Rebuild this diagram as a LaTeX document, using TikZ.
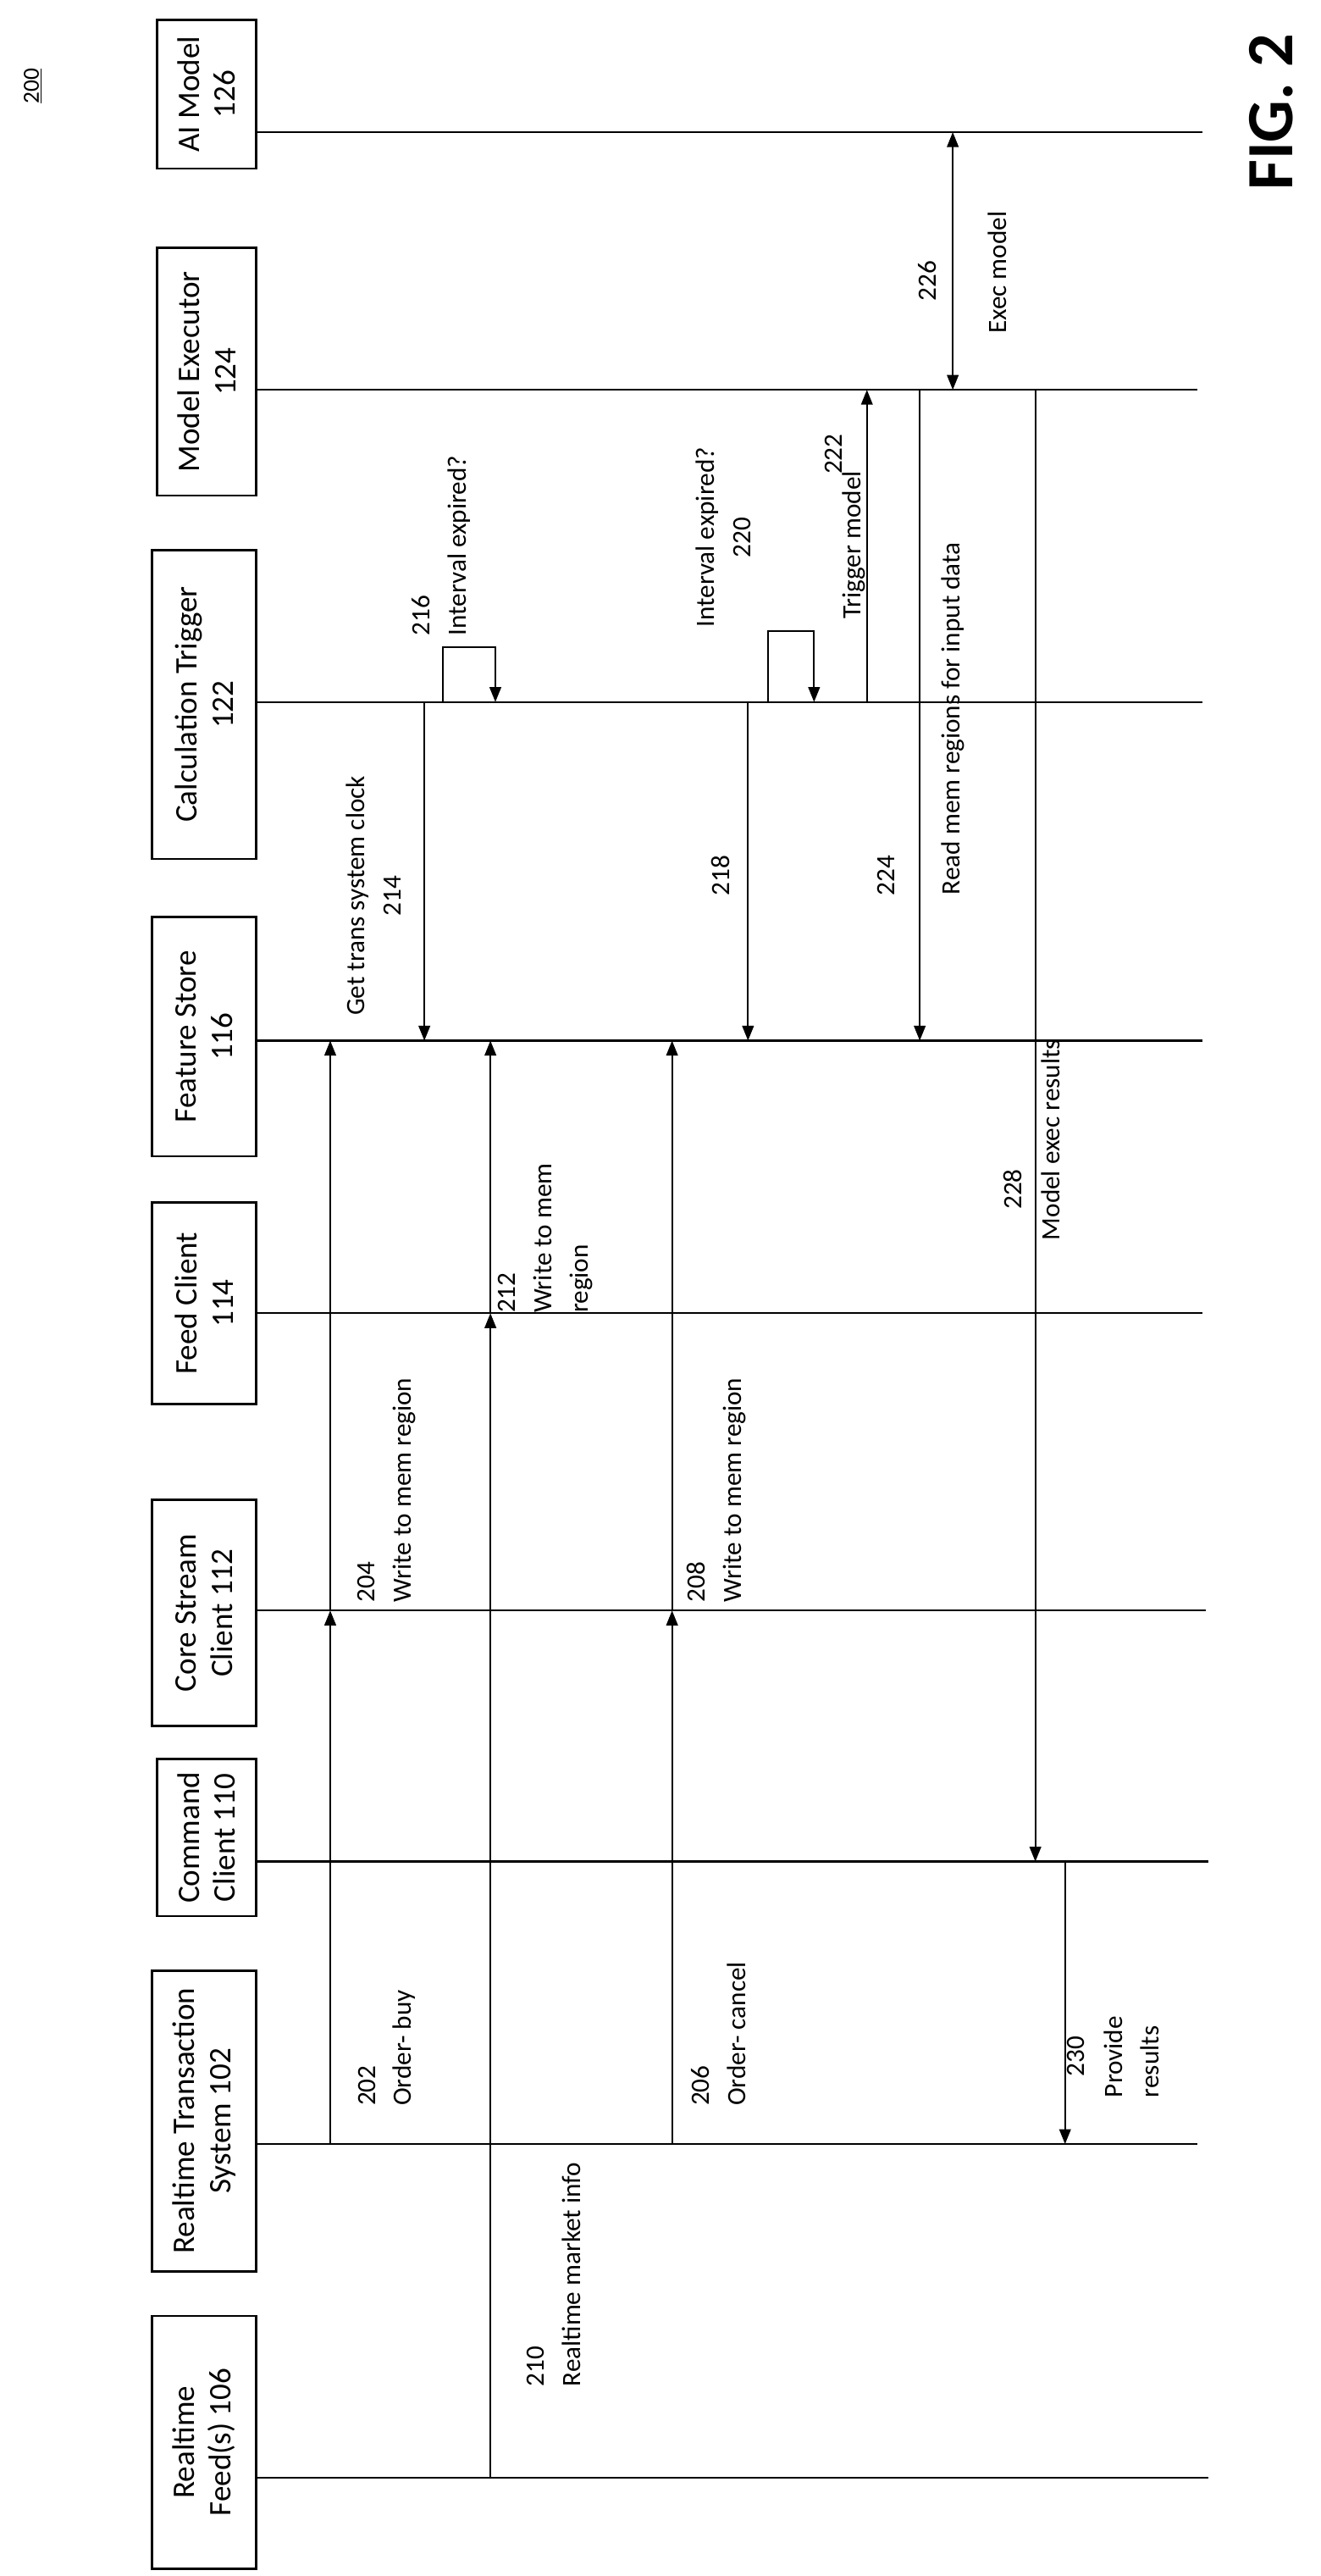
\documentclass[tikz,border=0pt]{standalone}
\usepackage{fontspec}
\setmainfont{Carlito}
\usetikzlibrary{arrows.meta}
\begin{document}
\begin{tikzpicture}[x=1pt,y=-1pt,
  box/.style={draw,line width=1.3pt,rotate=90,align=center,font=\fontsize{19}{22}\selectfont,inner sep=0},
  lbl/.style={rotate=90,align=left,font=\fontsize{16}{22}\selectfont,inner sep=0},
  life/.style={line width=1.2pt},
  msg/.style={line width=1pt,-{Triangle[length=9pt,width=7pt]}},
  arr/.style={-{Triangle[length=9pt,width=7pt]}}]
\useasboundingbox (0,0) rectangle (799.5,1559.5);
\node[box,minimum width=90pt,minimum height=60pt] (ai) at (125,57) {AI Model\\126};
\node[box,minimum width=150pt,minimum height=60pt] (me) at (125,225) {Model Executor\\124};
\node[box,minimum width=187pt,minimum height=63pt] (ct) at (123.5,426.5) {Calculation Trigger\\122};
\node[box,minimum width=145pt,minimum height=63pt] (fs) at (123.5,627.5) {Feature Store\\116};
\node[box,minimum width=122pt,minimum height=63pt] (fc) at (123.5,789) {Feed Client\\114};
\node[box,minimum width=137pt,minimum height=63pt] (cs) at (123.5,976.5) {Core Stream\\Client 112};
\node[box,minimum width=95pt,minimum height=60pt] (cc) at (125,1112.5) {Command\\Client 110};
\node[box,minimum width=182pt,minimum height=63pt] (rt) at (123.5,1284) {Realtime Transaction\\System 102};
\node[box,minimum width=153pt,minimum height=63pt] (rf) at (123.5,1478.5) {Realtime\\Feed(s) 106};
\coordinate (aiE) at (728,80); \draw[life] (155,80) -- (aiE);
\coordinate (meE) at (725,236); \draw[life] (155,236) -- (meE);
\coordinate (ctE) at (728,425); \draw[life] (155,425) -- (ctE);
\coordinate (fsE) at (728,630); \draw[life] (155,630) -- (fsE);
\coordinate (fcE) at (728,795); \draw[life] (155,795) -- (fcE);
\coordinate (csE) at (730,975); \draw[life] (155,975) -- (csE);
\coordinate (ccE) at (732,1127); \draw[life] (155,1127) -- (ccE);
\coordinate (rtE) at (725,1298); \draw[life] (155,1298) -- (rtE);
\coordinate (rfE) at (732,1500); \draw[life] (155,1500) -- (rfE);
\draw[msg] (200,1298) -- (200,975); \draw[msg] (200,975) -- (200,630);
\draw[msg] (297,1500) -- (297,795); \draw[msg] (297,795) -- (297,630);
\draw[msg] (407,1298) -- (407,975); \draw[msg] (407,975) -- (407,630);
\draw[msg] (257,425) -- (257,630);
\draw[msg] (268,425) -- (268,392) -- (300,392) -- (300,425);
\draw[msg] (453,425) -- (453,630);
\draw[msg] (465,425) -- (465,382) -- (493,382) -- (493,425);
\draw[msg] (525,425) -- (525,236);
\draw[msg] (557,236) -- (557,630);
\draw[line width=1pt,{Triangle[length=9pt,width=7pt]}-{Triangle[length=9pt,width=7pt]}] (577,80) -- (577,236);
\draw[msg] (627,236) -- (627,1127);
\draw[msg] (645,1127) -- (645,1298);
\node[lbl,anchor=south west] at (252,1275) {202\\Order- buy};
\node[lbl,anchor=south west] at (252,970) {204\\Write to mem region};
\node[lbl,anchor=south west] at (452,1275) {206\\Order- cancel};
\node[lbl,anchor=south west] at (452,970) {208\\Write to mem region};
\node[lbl,anchor=south west] at (352,1445) {210\\Realtime market info};
\node[lbl,anchor=south west] at (359,795) {212\\Write to mem\\region};
\node[lbl,anchor=south west,align=center] at (243,615) {Get trans system clock\\214};
\node[lbl,anchor=south west] at (285,385) {216\\Interval expired?};
\node[lbl,anchor=south west,align=center] at (455,380) {Interval expired?\\220};
\node[lbl,anchor=south] at (510,275) {222};
\node[lbl,anchor=south] at (524,330) {Trigger model};
\node[lbl,anchor=south] at (442,530) {218};
\node[lbl,anchor=south] at (542,530) {224};
\node[lbl,anchor=south] at (584,435) {Read mem regions for input data};
\node[lbl,anchor=south] at (567,170) {226};
\node[lbl,anchor=south] at (610,165) {Exec model};
\node[lbl,anchor=south] at (619,720) {228};
\node[lbl,anchor=south] at (642,690) {Model exec results};
\node[lbl,anchor=south] at (657,1245) {230};
\node[lbl,anchor=south west] at (702,1270) {Provide\\results};
\node[rotate=90,font=\fontsize{14}{16}\selectfont] at (20,52) {\underline{200}};
\node[rotate=90,font=\bfseries\fontsize{40}{44}\selectfont] at (770,68) {FIG. 2};
\end{tikzpicture}
\end{document}
